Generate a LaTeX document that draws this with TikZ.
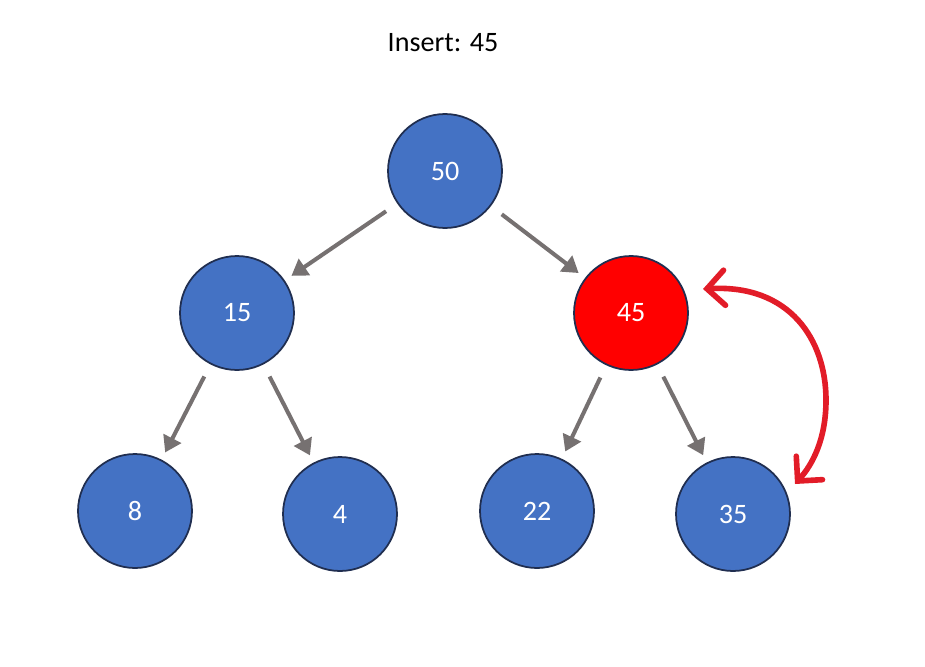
\documentclass[tikz,border=0pt]{standalone}
\usepackage{fontspec}
\setmainfont{Carlito}
\usetikzlibrary{positioning,arrows.meta}

\definecolor{nodeblue}{RGB}{68,114,196}
\definecolor{nodeedge}{RGB}{32,46,80}
\definecolor{edgegray}{RGB}{118,113,113}
\definecolor{swapred}{RGB}{226,28,40}

\begin{document}
\begin{tikzpicture}[x=0.02cm, y=-0.02cm,
  heapnode/.style={circle, draw=nodeedge, line width=1pt, fill=nodeblue,
    minimum size=2.28cm, inner sep=0pt, text=white, font=\fontsize{16}{19}\selectfont},
  newnode/.style={heapnode, fill=red},
  link/.style={draw=edgegray, line width=2.3pt, -{Triangle[length=9pt,width=11pt]},
    shorten <=0.27cm, shorten >=0.16cm},
  swap/.style={draw=swapred, line width=3.2pt, line cap=round,
    {Straight Barb[length=10pt,width=20pt,line cap=round]}-{Straight Barb[length=10pt,width=20pt,line cap=round]}}]
\useasboundingbox (0,0) rectangle (925,666);

\def\ya{171};
\def\yb{313};
\def\yc{512};

\node at (443,43) {\fontsize{16}{19}\selectfont Insert: 45};

\node[heapnode](n50) at (445,\ya) {50};
\node[heapnode](n15) at (237,\yb) {15};
\node[newnode](n45) at (631,\yb) {45};
\node[heapnode](n8) at (135,511) {8};
\node[heapnode](n4) at (340,514) {4};
\node[heapnode](n22) at (537,511) {22};
\node[heapnode](n35) at (733,514) {35};

\draw[link] (n50) -- (n15);
\draw[link] (n50) -- (n45);
\draw[link] (n15) -- (n8);
\draw[link] (n15) -- (n4);
\draw[link] (n45) -- (n22);
\draw[link] (n45) -- (n35);

\coordinate(top) at (703,289);
\coordinate(bend) at (826,400);
\coordinate(bot) at (795,484);
\draw[swap] (top) .. controls (790,284) and (826,340) .. (bend)
  .. controls (826,440) and (812,465) .. (bot);
\end{tikzpicture}
\end{document}
